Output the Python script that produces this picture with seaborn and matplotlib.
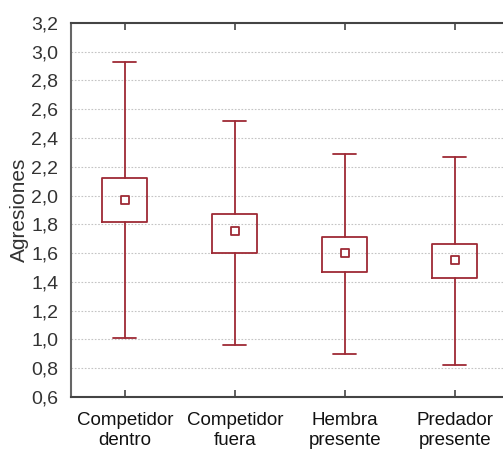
import numpy as np
import matplotlib
matplotlib.use("Agg")
import matplotlib.pyplot as plt
import matplotlib.ticker as mticker
import seaborn as sns

categories = ["Competidor\ndentro", "Competidor\nfuera", "Hembra\npresente", "Predador\npresente"]
means = [1.97, 1.75, 1.60, 1.55]
box_low = [1.815, 1.60, 1.47, 1.43]
box_high = [2.125, 1.87, 1.71, 1.66]
whisk_low = [1.01, 0.96, 0.90, 0.82]
whisk_high = [2.93, 2.52, 2.29, 2.27]
y_ticks = [0.6, 0.8, 1.0, 1.2, 1.4, 1.6, 1.8, 2.0, 2.2, 2.4, 2.6, 2.8, 3.0, 3.2]

sns.set_style("white")
plt.rcParams["font.family"] = ["Liberation Sans", "DejaVu Sans"]

red = "#9e2a35"

fig = plt.figure(figsize=(5.03, 4.5), dpi=100)
ax = fig.add_axes([0.141, 0.118, 0.875, 0.831])

stats = []
for i in range(len(categories)):
    stats.append({
        "med": means[i], "mean": means[i],
        "q1": box_low[i], "q3": box_high[i],
        "whislo": whisk_low[i], "whishi": whisk_high[i],
        "fliers": [],
    })

line = dict(color=red, linewidth=1.3)
ax.bxp(stats, positions=range(len(categories)), widths=0.41, capwidths=0.21,
       showmeans=False, showfliers=False, patch_artist=False,
       boxprops=line, whiskerprops=line, capprops=line,
       medianprops=dict(linewidth=0), zorder=3)

# mean markers
sns.scatterplot(x=list(range(len(categories))), y=means, marker="s", s=30,
                facecolor="white", edgecolor=red, linewidth=1.3, ax=ax, zorder=4)

ax.set_xlim(-0.49, 3.51)
ax.set_ylim(0.6, 3.2)
ax.set_xticks(range(len(categories)))
ax.set_xticklabels(categories, fontsize=13.5, color="#111111")
ax.set_yticks(y_ticks)
ax.yaxis.set_major_formatter(mticker.FuncFormatter(lambda v, p: f"{v:.1f}".replace(".", ",")))
ax.tick_params(axis="y", length=0, labelsize=14, labelcolor="#333333", pad=9)
ax.tick_params(axis="x", direction="in", length=5, width=1.2, color="#444444",
               top=True, bottom=True, pad=11)
ax.set_ylabel("Agresiones", fontsize=15, color="#333333", labelpad=2)

for yv in y_ticks[1:-1]:
    ax.axhline(yv, color="#c4c4c4", linestyle=(0, (1.5, 1.5)), linewidth=0.8, zorder=1)

for side in ["left", "top", "bottom", "right"]:
    ax.spines[side].set_color("#444444")
    ax.spines[side].set_linewidth(1.5)
ax.spines["left"].set_color("#666666")

fig.savefig("out.png", dpi=100)
